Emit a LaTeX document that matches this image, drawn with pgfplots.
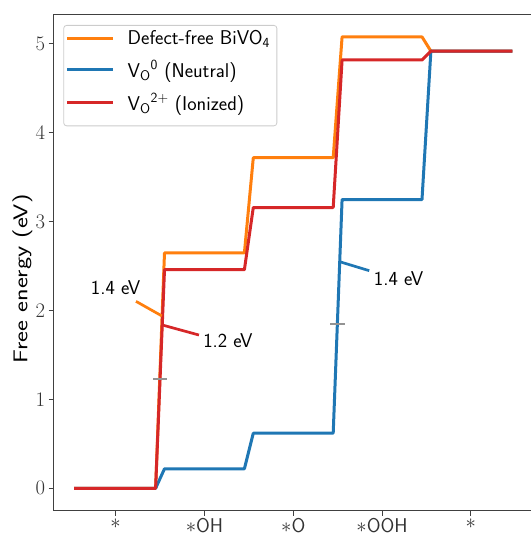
\documentclass[border=0pt]{standalone}
\usepackage{pgfplots}
\pgfplotsset{compat=1.18}
\definecolor{morange}{HTML}{FF7F0E}
\definecolor{mblue}{HTML}{1F77B4}
\definecolor{mred}{HTML}{D62728}
\begin{document}
\begin{tikzpicture}[font=\fontsize{20}{24}\selectfont\sffamily]
\begin{axis}[
  at={(53.5bp,22.1bp)}, anchor=south west,
  scale only axis, width=479.5bp, height=496.6bp,
  xmin=-0.7, xmax=4.7, ymin=-0.254, ymax=5.334,
  axis line style={black!75, line width=1.1bp},
  tick align=outside, xtick pos=bottom, ytick pos=left,
  major tick length=5bp,
  every tick/.style={black!75, line width=1bp},
  xtick={0,1,2,3,4},
  xticklabels={$*$, $*$OH, $*$O, $*$OOH, $*$},
  ytick={0,1,2,3,4,5},
  ticklabel style={text=black!80},
  xticklabel style={yshift=1bp},
  ylabel={Free energy (eV)},
  ylabel style={at={(axis description cs:-0.065,0.467)}, anchor=center, xscale=1.3},
  legend style={at={(axis description cs:0.0204,0.9785)}, anchor=north west,
    draw=black!20, rounded corners=3bp, fill=white, line width=0.8bp,
    inner xsep=3bp, inner ysep=1bp, row sep=6.5bp,
    nodes={inner sep=4bp},
    /tikz/every odd column/.append style={column sep=11bp}},
  legend cell align=left,
  legend image code/.code={\draw[#1] (0bp,0bp) -- (43bp,0bp);},
  every axis plot/.append style={line width=3bp, line cap=rect, line join=round},
]
\addplot[morange] coordinates {(-0.45,0) (0.45,0) (0.55,2.65) (1.45,2.65) (1.55,3.72) (2.45,3.72) (2.55,5.08) (3.45,5.08) (3.55,4.92) (4.45,4.92)};
\addlegendentry{Defect-free BiVO\textsubscript{4}\hspace{4bp}}
\addplot[mblue] coordinates {(-0.45,0) (0.45,0) (0.55,0.22) (1.45,0.22) (1.55,0.62) (2.45,0.62) (2.55,3.25) (3.45,3.25) (3.55,4.92) (4.45,4.92)};
\addlegendentry{V\textsubscript{O}\textsuperscript{0} (Neutral)}
\addplot[mred] coordinates {(-0.45,0) (0.45,0) (0.55,2.46) (1.45,2.46) (1.55,3.16) (2.45,3.16) (2.55,4.82) (3.45,4.82) (3.55,4.92) (4.45,4.92)};
\addlegendentry{V\textsubscript{O}\textsuperscript{2+} (Ionized)}
\addlegendimage{empty legend}
\addlegendentry[inner sep=0pt, text height=2.5bp, text depth=0pt]{}
% annotation pointers
\addplot[morange, forget plot, line width=2.7bp, line cap=butt] coordinates {(0.229,2.104) (0.52,1.94)};
\addplot[mred, forget plot, line width=2.7bp, line cap=butt] coordinates {(0.525,1.838) (0.938,1.725)};
\addplot[mblue, forget plot, line width=2.7bp, line cap=butt] coordinates {(2.523,2.55) (2.856,2.449)};
% 1.23 eV markers
\addplot[forget plot, only marks, mark=-, mark size=6bp, gray!85, mark options={line width=2.8bp, gray!85}] coordinates {(0.5,1.23) (2.497,1.85)};
\node at (axis cs:0.0,2.254) {1.4 eV};
\node at (axis cs:1.265,1.658) {1.2 eV};
\node at (axis cs:3.187,2.355) {1.4 eV};
\end{axis}
\pgfresetboundingbox
\useasboundingbox (0,0) rectangle (531bp,533bp);
\end{tikzpicture}
\end{document}
